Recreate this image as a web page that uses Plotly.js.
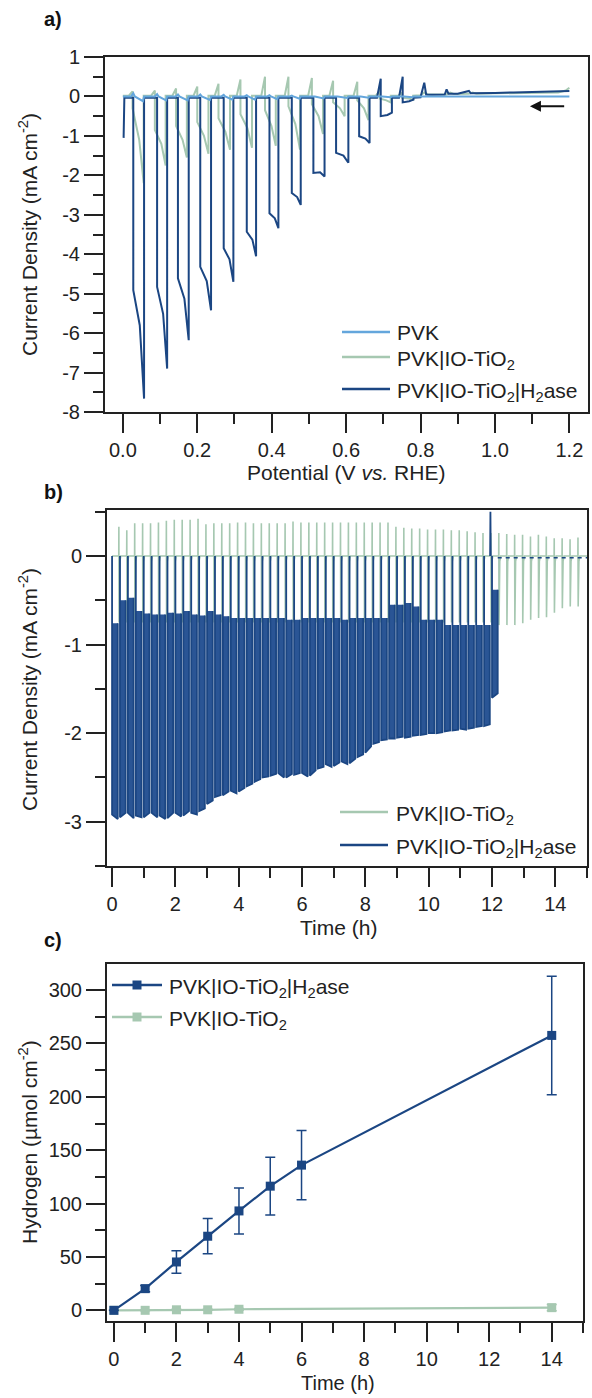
<!DOCTYPE html>
<html><head><meta charset="utf-8">
<script src="https://cdn.plot.ly/plotly-3.0.1.min.js"></script>
<style>html,body{margin:0;padding:0;background:#fff}#plot{width:592px;height:1398px}</style>
</head><body><div id="plot"></div>
<script>
// ================= Panel a: chopped LSV =================
// PVK|IO-TiO2|H2ase pulses (left edge = light off, right edge = light on)
const hXL = [0.028, 0.092, 0.148, 0.208, 0.271, 0.333, 0.394, 0.454, 0.512, 0.573, 0.635, 0.693, 0.752];
const hXR = [0.057, 0.119, 0.177, 0.237, 0.297, 0.358, 0.418, 0.478, 0.542, 0.606, 0.663, 0.723, 0.781];
const hIL = [-4.91, -4.83, -4.61, -4.32, -3.85, -3.43, -2.96, -2.45, -1.94, -1.43, -1.01, -0.50, -0.15];
const hIM = [-5.80, -5.51, -5.13, -4.68, -4.13, -3.63, -3.09, -2.55, -1.92, -1.50, -1.07, -0.47, -0.12];
const hIR = [-7.66, -6.90, -6.18, -5.42, -4.70, -4.05, -3.34, -2.75, -2.03, -1.68, -1.18, -0.41, -0.08];
const hSpike = [0, 0, 0, 0, 0, 0, 0, 0, 0, 0, 0, 0.45, 0.50];
const hStartX = [0.002, 0.004];
const hStartY = [-1.05, -0.03];
const hTailX = [0.80, 0.81, 0.815, 0.83, 0.865, 0.87, 0.875, 0.90, 0.93, 0.935, 0.94, 1.0, 1.05, 1.1, 1.15, 1.2];
const hTailY = [-0.02, 0.35, 0.05, 0.04, 0.05, 0.18, 0.07, 0.07, 0.14, 0.08, 0.08, 0.09, 0.10, 0.11, 0.12, 0.14];

// PVK|IO-TiO2 pulses
const gXL = [0.026, 0.086, 0.143, 0.200, 0.257, 0.316, 0.382, 0.445, 0.508, 0.565, 0.630, 0.690, 0.750];
const gXR = [0.056, 0.115, 0.172, 0.230, 0.288, 0.347, 0.411, 0.476, 0.538, 0.596, 0.660, 0.720, 0.780];
const gIL = [-0.30, -0.85, -0.75, -0.65, -0.55, -0.45, -0.35, -0.25, -0.20, -0.15, -0.10, -0.05, -0.03];
const gIM = [-1.10, -1.20, -1.10, -1.00, -0.90, -0.80, -0.75, -0.70, -0.50, -0.30, -0.30, -0.10, -0.05];
const gIR = [-2.20, -1.75, -1.55, -1.45, -1.35, -1.30, -1.25, -1.35, -0.95, -0.50, -0.60, -0.15, -0.08];
const gSpike = [0.13, 0.15, 0.20, 0.25, 0.32, 0.43, 0.50, 0.50, 0.47, 0.40, 0.37, 0.15, 0.10];
const gStartX = [0.0, 0.015];
const gStartY = [0.02, 0.02];
const gTailX = [0.80, 0.81, 0.82, 0.87, 0.88, 0.89, 0.93, 0.94, 0.95, 1.0, 1.1, 1.17, 1.19, 1.2];
const gTailY = [0.03, 0.10, 0.05, 0.05, 0.10, 0.06, 0.07, 0.10, 0.07, 0.08, 0.09, 0.10, 0.15, 0.22];

// PVK pulses (tiny)
const pDip = [-0.12, -0.10, -0.10, -0.09, -0.08, -0.08, -0.07, -0.06, -0.05, -0.04, -0.03, -0.02, -0.02];
const pSpike = [0.08, 0.06, 0.05, 0.05, 0.04, 0.03, 0.03, 0.02, 0.01, 0.01, 0.0, 0.0, 0.0];
const pEndX = [0.80, 1.2];
const pEndY = [0.0, 0.0];

// tick labels
const aYTickVals = [1, 0, -1, -2, -3, -4, -5, -6, -7, -8];
const aYTickText = ['1', '0', '-1', '-2', '-3', '-4', '-5', '-6', '-7', '-8'];
const bYTickVals = [0, -1, -2, -3];
const bYTickText = ['0', '-1', '-2', '-3'];

// ================= Panel b: chopped chronoamperometry =================
const bPeriod = 0.25;     // h, light chopping period
const bBlueBot = [-2.92, -2.95, -2.90, -2.93, -2.95, -2.90, -2.93, -2.96, -2.90, -2.93, -2.90, -2.88,
  -2.80, -2.72, -2.70, -2.65, -2.66, -2.60, -2.55, -2.50, -2.48, -2.45, -2.50, -2.47, -2.45, -2.48,
  -2.40, -2.35, -2.37, -2.32, -2.34, -2.27, -2.22, -2.12, -2.08, -2.06, -2.05, -2.05, -2.03, -2.02,
  -2.00, -2.00, -1.98, -1.97, -1.95, -1.95, -1.93, -1.92, -1.60];
const bBlueBotR = [-2.97, -2.90, -2.96, -2.95, -2.90, -2.95, -2.97, -2.90, -2.94, -2.88, -2.92, -2.85,
  -2.76, -2.70, -2.66, -2.68, -2.62, -2.57, -2.52, -2.49, -2.46, -2.50, -2.46, -2.45, -2.49, -2.42,
  -2.38, -2.38, -2.33, -2.35, -2.29, -2.24, -2.15, -2.10, -2.07, -2.06, -2.04, -2.04, -2.02, -2.01,
  -2.00, -1.99, -1.97, -1.96, -1.96, -1.94, -1.92, -1.90, -1.55];
const bBlueTop = [-0.76, -0.50, -0.47, -0.62, -0.65, -0.66, -0.66, -0.64, -0.65, -0.62, -0.66, -0.67,
  -0.62, -0.66, -0.68, -0.70, -0.70, -0.70, -0.70, -0.70, -0.70, -0.70, -0.72, -0.72, -0.70, -0.70,
  -0.70, -0.70, -0.70, -0.72, -0.70, -0.70, -0.70, -0.70, -0.70, -0.55, -0.55, -0.53, -0.57, -0.72,
  -0.72, -0.72, -0.78, -0.78, -0.78, -0.78, -0.78, -0.78, -0.38];
const bGreenPeak = [0.33, 0.29, 0.37, 0.37, 0.37, 0.38, 0.40, 0.41, 0.41, 0.41, 0.42,
  0.36, 0.37, 0.37, 0.37, 0.38, 0.38, 0.37, 0.37, 0.37, 0.37, 0.37, 0.39, 0.38, 0.38, 0.38, 0.38, 0.38,
  0.38, 0.38, 0.38, 0.38, 0.38, 0.38, 0.38,
  0.33, 0.32, 0.31, 0.31, 0.30, 0.30, 0.30, 0.29, 0.29, 0.28, 0.27, 0.26, 0.26,
  0.26, 0.25, 0.24, 0.24, 0.22, 0.24, 0.22, 0.20, 0.20, 0.19, 0.21];
const bGreenLow = [-0.75, -0.75, -0.75, -0.75, -0.75, -0.75, -0.75, -0.75, -0.75, -0.75, -0.75, -0.75,
  -0.75, -0.75, -0.75, -0.75, -0.75, -0.75, -0.75, -0.75, -0.75, -0.75, -0.75, -0.75, -0.75, -0.75,
  -0.75, -0.75, -0.75, -0.75, -0.75, -0.75, -0.75, -0.75, -0.75, -0.75, -0.75, -0.75, -0.75, -0.75,
  -0.75, -0.75, -0.75, -0.75, -0.75, -0.75, -0.75, -0.75,
  -0.78, -0.78, -0.78, -0.76, -0.72, -0.70, -0.69, -0.64, -0.59, -0.57, -0.57];
const bSpikeX = [11.94, 11.95, 11.96];
const bSpikeY = [0, 0.5, 0];
const bPostX = [12.18, 15.0];
const bPostY = [-0.02, -0.02];

// ================= Panel c: hydrogen evolution =================
const cTimeH = [0, 1, 2, 3, 4, 5, 6, 14];
const cH2ase = [0, 20.3, 45.3, 69.4, 93.1, 116.3, 136, 257.5];
const cH2aseErr = [0, 3, 10.5, 16.5, 21.5, 27, 32.5, 55.5];
const cTimeG = [0, 1, 2, 3, 4, 14];
const cTiO2 = [0, 0, 0.5, 0.5, 1, 2.5];
const cTiO2Err = [0.5, 0.5, 0.5, 0.5, 0.8, 3];

// ================= colours =================
const NAVY = '#1b4683', SAGE = '#a6c8b1', SKY = '#64a6dc', MID = '#2a5595';
const FONT = 'Liberation Sans, Arial, sans-serif';

// ---------- build panel a traces ----------
function buildLSV(startX, startY, xL, xR, iL, iM, iR, sp, base, tailX, tailY) {
  const X = startX.slice(), Y = startY.slice();
  for (let k = 0; k < xL.length; k++) {
    if (sp[k] > 0) { X.push(xL[k] - 0.010, xL[k]); Y.push(base, sp[k]); }
    else { X.push(xL[k]); Y.push(base); }
    X.push(xL[k], xL[k] + 0.6 * (xR[k] - xL[k]), xR[k], xR[k]);
    Y.push(iL[k], iM[k], iR[k], base);
  }
  return {x: X.concat(tailX), y: Y.concat(tailY)};
}
const aGreen = buildLSV(gStartX, gStartY, gXL, gXR, gIL, gIM, gIR, gSpike, 0.02, gTailX, gTailY);
const aNavy = buildLSV(hStartX, hStartY, hXL, hXR, hIL, hIM, hIR, hSpike, -0.03, hTailX, hTailY);
const aPvk = (function () {
  const X = [0.0], Y = [0.0];
  for (let k = 0; k < hXL.length; k++) {
    X.push(hXL[k] - 0.006, hXL[k], hXL[k] + 0.004, hXR[k] - 0.003, hXR[k]);
    Y.push(0.0, pSpike[k], 0.0, pDip[k], 0.0);
  }
  return {x: X.concat(pEndX), y: Y.concat(pEndY)};
})();

// ---------- build panel b traces ----------
const barW = 0.18, greenOff = 0.215;
const bgX = [], bgY = [];
bgX.push(0); bgY.push(0);
for (let i = 0; i < bGreenPeak.length; i++) {
  const t = i * bPeriod + greenOff;
  bgX.push(t - 0.004, t, t + 0.006, t + 0.03, t + 0.06);
  bgY.push(0, bGreenPeak[i], bGreenLow[i], -0.06, 0);
}
bgX.push(15); bgY.push(0);

const bnX = [], bnY = [], bfX = [], bfY = [];
for (let i = 0; i < bBlueBot.length; i++) {
  const t = i * bPeriod;
  bnX.push(t, t, t + barW, t + barW, null);
  bnY.push(0, bBlueBot[i], bBlueBotR[i], bBlueTop[i], null);
  bfX.push(t, t + barW, t + barW, t, null);
  bfY.push(bBlueTop[i], bBlueTop[i], bBlueBotR[i], bBlueBot[i], null);
}
bnX.push.apply(bnX, bSpikeX); bnY.push.apply(bnY, bSpikeY);

const traces = [
  {x: aGreen.x, y: aGreen.y, xaxis: 'x', yaxis: 'y', mode: 'lines', line: {color: SAGE, width: 2}, name: 'PVK|IO-TiO2', showlegend: false},
  {x: aNavy.x, y: aNavy.y, xaxis: 'x', yaxis: 'y', mode: 'lines', line: {color: NAVY, width: 2}, name: 'PVK|IO-TiO2|H2ase', showlegend: false},
  {x: aPvk.x, y: aPvk.y, xaxis: 'x', yaxis: 'y', mode: 'lines', line: {color: SKY, width: 2}, name: 'PVK', showlegend: false},

  {x: bgX, y: bgY, xaxis: 'x2', yaxis: 'y2', mode: 'lines', line: {color: SAGE, width: 1.6}, showlegend: false},
  {x: bfX, y: bfY, xaxis: 'x2', yaxis: 'y2', mode: 'lines', fill: 'toself', fillcolor: MID, line: {width: 0, color: MID}, showlegend: false, hoverinfo: 'skip'},
  {x: bnX, y: bnY, xaxis: 'x2', yaxis: 'y2', mode: 'lines', line: {color: NAVY, width: 1.8}, connectgaps: false, showlegend: false},
  {x: bPostX, y: bPostY, xaxis: 'x2', yaxis: 'y2', mode: 'lines', line: {color: NAVY, width: 1.6, dash: '4px,4px'}, showlegend: false},

  {x: cTimeG, y: cTiO2, xaxis: 'x3', yaxis: 'y3', mode: 'lines+markers', line: {color: SAGE, width: 2.2},
   marker: {symbol: 'square', size: 9, color: SAGE}, error_y: {type: 'data', array: cTiO2Err, color: SAGE, thickness: 1.5, width: 5}, showlegend: false},
  {x: cTimeH, y: cH2ase, xaxis: 'x3', yaxis: 'y3', mode: 'lines+markers', line: {color: NAVY, width: 2.2},
   marker: {symbol: 'square', size: 9, color: NAVY}, error_y: {type: 'data', array: cH2aseErr, color: NAVY, thickness: 1.5, width: 5}, showlegend: false}
];

// ---------- layout ----------
const W = 592, H = 1398;
const px = v => v / W, py = v => 1 - v / H;
const tickFont = {family: FONT, size: 20, color: '#222'};
function ax(o) {
  return Object.assign({
    showline: true, mirror: true, linecolor: '#222', linewidth: 2,
    ticks: 'outside', ticklen: 19, tickwidth: 2, tickcolor: '#222',
    showgrid: false, zeroline: false, tickfont: tickFont, fixedrange: true
  }, o);
}
function minor(d) { return {tickmode: 'linear', tick0: 0, dtick: d, ticks: 'outside', ticklen: 10, tickwidth: 2, tickcolor: '#222'}; }
const ann = [];
function text(x, y, t, o) {
  ann.push(Object.assign({xref: 'paper', yref: 'paper', x: px(x), y: py(y), text: t, showarrow: false,
    xanchor: 'center', yanchor: 'middle', font: {family: FONT, size: 21, color: '#222'}}, o || {}));
}
const lblFont = {family: FONT, size: 20, color: '#111'};
// panel labels
text(42, 19, '<b>a)</b>', {xanchor: 'left', font: lblFont});
text(42, 492, '<b>b)</b>', {xanchor: 'left', font: lblFont});
text(42, 940, '<b>c)</b>', {xanchor: 'left', font: lblFont});
// axis titles
text(28, 235, 'Current Density (mA cm<sup>-2</sup>)', {textangle: -90});
text(28, 690, 'Current Density (mA cm<sup>-2</sup>)', {textangle: -90});
text(28, 1142, 'Hydrogen (µmol cm<sup>-2</sup>)', {textangle: -90});
text(346, 472, 'Potential (V <i>vs.</i> RHE)');
text(338, 927, 'Time (h)');
text(338, 1396, 'Time (h)', {yanchor: 'bottom', font: {family: FONT, size: 20, color: '#222'}});
// legends
const legFont = {family: FONT, size: 21, color: '#222'};
text(395, 332, 'PVK', {xanchor: 'left', font: legFont});
text(395, 360, 'PVK|IO-TiO<sub>2</sub>', {xanchor: 'left', font: legFont});
text(395, 392, 'PVK|IO-TiO<sub>2</sub>|H<sub>2</sub>ase', {xanchor: 'left', font: legFont});
text(394, 815, 'PVK|IO-TiO<sub>2</sub>', {xanchor: 'left', font: legFont});
text(394, 848, 'PVK|IO-TiO<sub>2</sub>|H<sub>2</sub>ase', {xanchor: 'left', font: legFont});
text(167, 988, 'PVK|IO-TiO<sub>2</sub>|H<sub>2</sub>ase', {xanchor: 'left', font: legFont});
text(167, 1020, 'PVK|IO-TiO<sub>2</sub>', {xanchor: 'left', font: legFont});
// arrow (scan direction)
ann.push({xref: 'x', yref: 'y', axref: 'x', ayref: 'y', x: 1.094, y: -0.25, ax: 1.19, ay: -0.25,
  showarrow: true, arrowhead: 2, arrowsize: 1.1, arrowwidth: 2, arrowcolor: '#111', text: ''});

const shapes = [];
function legLine(x0, x1, y, c) {
  shapes.push({type: 'line', xref: 'paper', yref: 'paper', x0: px(x0), x1: px(x1), y0: py(y), y1: py(y), line: {color: c, width: 2.5}});
}
function legSq(x, y, c) {
  shapes.push({type: 'rect', xref: 'paper', yref: 'paper', x0: px(x - 4.5), x1: px(x + 4.5), y0: py(y + 4.5), y1: py(y - 4.5), fillcolor: c, line: {width: 0}});
}
legLine(342, 390, 332, SKY); legLine(342, 390, 357, SAGE); legLine(342, 390, 389, NAVY);
legLine(340, 388, 812, SAGE); legLine(340, 388, 845, NAVY);
legLine(112, 162, 985, NAVY); legSq(137, 985, NAVY);
legLine(112, 162, 1017, SAGE); legSq(137, 1017, SAGE);

const layout = {
  width: W, height: H, margin: {l: 0, r: 0, t: 0, b: 0}, paper_bgcolor: '#fff', plot_bgcolor: '#fff',
  showlegend: false, font: {family: FONT, color: '#222'},
  xaxis: ax({domain: [px(105), px(588)], range: [-0.048, 1.25], anchor: 'y', tick0: 0, dtick: 0.2, tickformat: '.1f', minor: minor(0.1)}),
  yaxis: ax({domain: [py(412), py(57)], range: [-8, 1], anchor: 'x', tickmode: 'array', tickvals: aYTickVals, ticktext: aYTickText, minor: minor(0.5)}),
  xaxis2: ax({domain: [px(107), px(587)], range: [-0.16, 15], anchor: 'y2', tick0: 0, dtick: 2, minor: minor(1)}),
  yaxis2: ax({domain: [py(866), py(510)], range: [-3.5, 0.52], anchor: 'x2', tickmode: 'array', tickvals: bYTickVals, ticktext: bYTickText, minor: minor(0.5)}),
  xaxis3: ax({domain: [px(107), px(583)], range: [-0.22, 15], anchor: 'y3', tick0: 0, dtick: 2, minor: minor(1)}),
  yaxis3: ax({domain: [py(1321), py(964)], range: [-10, 324.4], anchor: 'x3', dtick: 50, minor: minor(25)}),
  annotations: ann, shapes: shapes
};
Plotly.newPlot('plot', traces, layout, {staticPlot: true, displayModeBar: false});
</script>
</body></html>
